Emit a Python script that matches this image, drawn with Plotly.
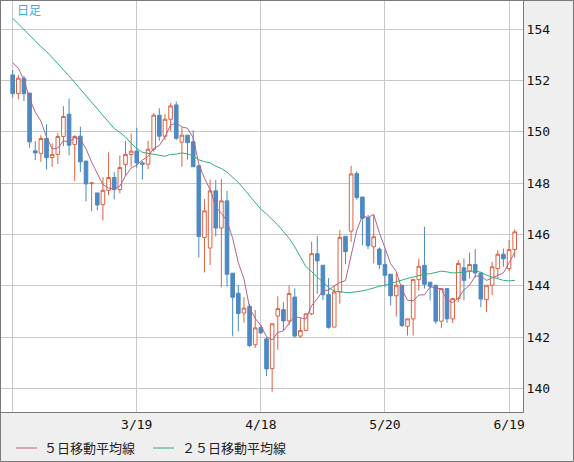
import pandas as pd
import plotly.graph_objects as go

# 日足 (weekday sessions from 2025-02-17)
dates = pd.bdate_range("2025-02-17", periods=90).strftime("%Y-%m-%d").tolist()

open_ = [152.22, 151.49, 152.09, 151.51, 149.26, 149.16, 149.74, 149.00, 149.12, 149.82,
         150.69, 149.51, 149.83, 148.86, 147.98, 147.62, 147.16, 147.72, 148.22, 147.75,
         148.73, 149.12, 149.25, 148.79, 148.74, 149.32, 150.65, 149.83, 150.49, 151.05,
         149.60, 149.87, 149.61, 148.68, 145.88, 145.47, 147.70, 146.25, 147.31, 144.49,
         143.71, 142.94, 143.20, 141.70, 142.37, 141.93, 140.77, 142.82, 143.07, 142.63,
         143.56, 142.04, 142.26, 142.91, 145.25, 144.80, 143.66, 142.39, 143.76, 145.93,
         146.13, 148.37, 147.46, 146.66, 145.52, 145.43, 144.83, 144.45, 143.61, 144.02,
         142.42, 142.71, 144.24, 144.80, 144.14, 144.02, 142.62, 143.89, 142.71, 143.50,
         144.70, 144.58, 144.83, 144.50, 143.46, 144.02, 144.67, 145.23, 144.67, 145.41]

high = [152.41, 152.22, 152.18, 151.51, 149.64, 149.87, 150.30, 149.55, 149.96, 151.00,
        151.30, 149.87, 150.20, 148.86, 148.00, 147.62, 148.24, 149.20, 148.43, 149.08,
        149.65, 149.94, 150.16, 148.87, 149.65, 150.73, 150.92, 150.69, 151.12, 151.18,
        150.17, 149.87, 150.06, 148.68, 147.38, 148.14, 148.12, 148.16, 147.70, 144.49,
        144.04, 143.55, 143.30, 143.06, 142.47, 142.00, 142.52, 143.59, 143.36, 144.01,
        143.90, 142.74, 142.91, 145.72, 145.93, 144.81, 144.30, 144.01, 146.17, 145.93,
        148.68, 148.46, 147.46, 146.76, 146.76, 145.50, 145.39, 144.45, 144.50, 144.02,
        142.71, 144.25, 145.06, 146.30, 144.14, 144.02, 143.89, 143.89, 143.50, 145.00,
        145.06, 145.30, 145.43, 144.50, 144.02, 144.93, 145.39, 145.45, 145.78, 146.20]

low = [151.33, 151.27, 151.20, 149.38, 148.90, 148.83, 148.53, 148.64, 148.74, 149.44,
       149.09, 148.08, 148.44, 147.29, 146.90, 146.94, 146.55, 147.53, 147.37, 147.60,
       148.30, 148.64, 148.60, 148.14, 148.55, 149.23, 149.65, 149.68, 150.04, 149.68,
       148.64, 148.92, 148.64, 145.10, 144.52, 144.81, 145.92, 143.94, 143.97, 142.03,
       142.22, 142.57, 141.60, 141.58, 142.16, 140.48, 139.87, 141.51, 142.26, 142.46,
       141.98, 141.97, 142.24, 142.85, 143.69, 143.45, 142.33, 142.39, 143.30, 144.84,
       145.71, 147.35, 145.58, 145.43, 144.87, 144.65, 143.96, 143.24, 142.80, 142.39,
       142.06, 142.06, 143.82, 143.89, 143.43, 142.52, 142.36, 142.55, 142.55, 143.37,
       143.43, 144.28, 144.32, 143.17, 142.98, 143.63, 144.28, 144.74, 144.57, 145.09]

close = [151.49, 152.09, 151.49, 149.61, 149.18, 149.74, 148.99, 149.12, 149.82, 150.60,
         149.48, 149.82, 148.83, 147.97, 148.01, 147.15, 147.72, 148.22, 147.75, 148.61,
         149.12, 149.25, 148.79, 148.74, 149.32, 150.65, 149.83, 150.49, 151.01, 149.75,
         149.87, 149.58, 148.64, 145.92, 146.92, 147.70, 146.25, 147.31, 144.45, 143.55,
         142.92, 143.13, 141.67, 142.36, 142.16, 140.76, 142.52, 143.11, 142.63, 143.70,
         142.04, 142.26, 142.91, 145.25, 144.97, 143.65, 142.38, 143.76, 145.89, 145.33,
         148.36, 147.44, 146.63, 145.56, 145.91, 144.83, 144.41, 143.61, 144.02, 142.45,
         142.71, 144.25, 144.76, 144.06, 143.98, 142.62, 143.89, 142.71, 143.50, 144.87,
         144.21, 144.83, 144.50, 143.48, 144.02, 144.74, 145.23, 145.05, 145.41, 146.10]

ma5 = [152.70, 152.48, 152.02, 151.30, 150.77, 150.42, 149.80, 149.33, 149.37, 149.65,
       149.60, 149.77, 149.71, 149.34, 148.82, 148.36, 147.94, 147.81, 147.77, 147.89,
       148.28, 148.59, 148.70, 148.90, 149.04, 149.35, 149.47, 149.81, 150.26, 150.35,
       150.19, 150.14, 149.77, 148.75, 148.19, 147.75, 147.09, 146.82, 146.53, 145.85,
       144.90, 144.27, 143.14, 142.73, 142.45, 142.02, 141.89, 142.18, 142.24, 142.54,
       142.80, 142.75, 142.71, 143.23, 143.49, 143.81, 143.83, 144.00, 144.13, 144.20,
       145.14, 146.16, 146.73, 146.66, 146.78, 146.07, 145.47, 144.86, 144.56, 143.86,
       143.44, 143.41, 143.64, 143.65, 143.95, 143.93, 143.86, 143.45, 143.34, 143.52,
       143.84, 144.02, 144.38, 144.38, 144.21, 144.31, 144.39, 144.50, 144.89, 145.31]

ma25 = [154.43, 154.20, 154.00, 153.76, 153.52, 153.32, 153.13, 152.90, 152.67, 152.42,
        152.18, 151.92, 151.66, 151.42, 151.17, 150.91, 150.65, 150.39, 150.13, 149.98,
        149.80, 149.55, 149.35, 149.20, 149.16, 149.10, 149.08, 149.05, 149.12, 149.13,
        149.18, 149.14, 149.06, 148.91, 148.84, 148.79, 148.66, 148.57, 148.43, 148.22,
        148.03, 147.77, 147.51, 147.25, 146.98, 146.80, 146.60, 146.37, 146.11, 145.85,
        145.52, 145.10, 144.74, 144.55, 144.35, 144.12, 143.93, 143.80, 143.76, 143.74,
        143.74, 143.76, 143.80, 143.85, 143.93, 143.98, 144.02, 144.09, 144.17, 144.24,
        144.29, 144.34, 144.41, 144.45, 144.47, 144.51, 144.57, 144.54, 144.50, 144.51,
        144.54, 144.57, 144.58, 144.53, 144.41, 144.34, 144.27, 144.21, 144.19, 144.21]

tick_dates = ["2025-02-17", "2025-03-19", "2025-04-18", "2025-05-20", "2025-06-19"]
tick_text = ["", "3/19", "4/18", "5/20", "6/19"]
y_ticks = [140, 142, 144, 146, 148, 150, 152, 154]

ma_names = ["５日移動平均線", "２５日移動平均線"]
ma_colors = ["#b4628a", "#2fb07a"]

fig = go.Figure()

fig.add_trace(go.Candlestick(
    x=dates, open=open_, high=high, low=low, close=close,
    increasing=dict(line=dict(color="#dc6242", width=1), fillcolor="#ffffff"),
    decreasing=dict(line=dict(color="#4d89c2", width=1), fillcolor="#4d89c2"),
    whiskerwidth=0,
    showlegend=False,
))

for name, vals, col in zip(ma_names, [ma5, ma25], ma_colors):
    fig.add_trace(go.Scatter(
        x=dates, y=vals, mode="lines", name=name,
        line=dict(color=col, width=1), showlegend=False,
    ))

# legend drawn by hand along the bottom strip (paper coords: plot area is 522x411 px)
def px_x(p):
    return (p - 1) / 522

def px_y(p):
    return (412 - p) / 411

legend_y = px_y(448)
shapes = [dict(
    type="rect", xref="paper", yref="paper",
    x0=-0.001, x1=1.0967, y0=-0.1204, y1=1.0012,
    line=dict(color="#7a7a7a", width=1), fillcolor="rgba(0,0,0,0)",
    layer="above",
)]
annotations = [dict(
    text="日足", xref="paper", yref="paper", x=px_x(15), y=px_y(10),
    xanchor="left", yanchor="middle", showarrow=False,
    font=dict(family="Noto Sans CJK JP", size=12, color="#3aa8e8"),
)]
for name, col, x_line, x_text in zip(ma_names, ma_colors, [16, 153], [42, 180]):
    shapes.append(dict(
        type="line", xref="paper", yref="paper",
        x0=px_x(x_line), x1=px_x(x_line + 21), y0=legend_y, y1=legend_y,
        line=dict(color=col, width=1),
    ))
    annotations.append(dict(
        text=name, xref="paper", yref="paper", x=px_x(x_text), y=legend_y,
        xanchor="left", yanchor="middle", showarrow=False,
        font=dict(family="Noto Sans CJK JP", size=13, color="#222222"),
    ))

fig.update_layout(
    width=574, height=462,
    margin=dict(l=1, r=51, t=1, b=50),
    paper_bgcolor="#efefef",
    plot_bgcolor="#ffffff",
    font=dict(family="DejaVu Sans Mono", size=13, color="#111111"),
    showlegend=False,
    boxgap=0.2, boxgroupgap=0.2,
    xaxis=dict(
        type="category", range=[-2.07, 90.47],
        tickvals=tick_dates, ticktext=tick_text,
        showgrid=True, gridcolor="#c8c8c8", gridwidth=1,
        showline=True, linecolor="#7a7a7a", linewidth=1, mirror=True,
        ticks="", rangeslider=dict(visible=False),
    ),
    yaxis=dict(
        side="right", range=[139.08, 155.10],
        tickvals=y_ticks,
        showgrid=True, gridcolor="#c8c8c8", gridwidth=1,
        showline=True, linecolor="#7a7a7a", linewidth=1, mirror=True,
        ticks="", zeroline=False,
    ),
    annotations=annotations,
    shapes=shapes,
)

fig.write_html("out.html", config={"displayModeBar": False},
               post_script="document.body.style.margin='0';")
